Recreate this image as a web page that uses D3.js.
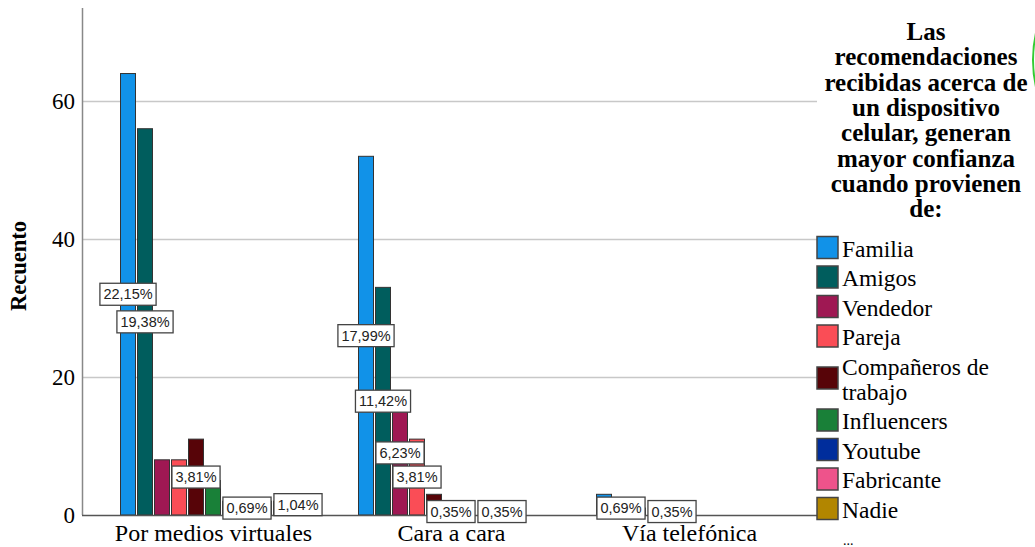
<!DOCTYPE html>
<html>
<head>
<meta charset="utf-8">
<script src="https://cdn.jsdelivr.net/npm/d3@7"></script>
<style>
  html, body { margin: 0; padding: 0; background: #fff; overflow: hidden; }
  svg { display: block; }
</style>
</head>
<body>
<svg id="chart" width="1035" height="547"></svg>
<script>
// ---------------- DATA ----------------
const categories = ["Por medios virtuales", "Cara a cara", "Vía telefónica"];
const seriesNames = ["Familia", "Amigos", "Vendedor", "Pareja", "Compañeros de trabajo",
  "Influencers", "Youtube", "Fabricante", "Nadie", "Otros", "No responde"];
const seriesColors = ["#1192e8", "#005d5d", "#9f1853", "#fa4d56", "#570408",
  "#198038", "#002d9c", "#ee538b", "#b28600", "#009d9a", "#012749"];
const valuesVirtuales = [64, 56, 8, 8, 11, 5, 2, 2, 2, 2, 3];
const valuesCaraACara = [52, 33, 18, 11, 3, 1, 0, 0, 1, 0, 0];
const valuesTelefonica = [3, 2, 1, 0, 1, 0, 0, 0, 0, 0, 0];
const yTicks = [0, 20, 40, 60];
const yMax = 73.5;
// which percentage labels are displayed (others hidden by overlap)
const labelsVirtuales = ["Familia", "Amigos", "Compañeros de trabajo", "Fabricante", "No responde"];
const labelsCaraACara = ["Familia", "Amigos", "Vendedor", "Pareja", "Influencers", "Nadie"];
const labelsTelefonica = ["Amigos", "Compañeros de trabajo"];
const legendItems = ["Familia", "Amigos", "Vendedor", "Pareja", "Compañeros de trabajo",
  "Influencers", "Youtube", "Fabricante", "Nadie"];
const legendTitleLines = ["Las", "recomendaciones", "recibidas acerca de", "un dispositivo",
  "celular, generan", "mayor confianza", "cuando provienen", "de:"];
const yAxisTitle = "Recuento";

// ---------------- BUILD ----------------
const valuesByCat = [valuesVirtuales, valuesCaraACara, valuesTelefonica];
const labelsByCat = [labelsVirtuales, labelsCaraACara, labelsTelefonica];
const total = d3.sum(valuesByCat.flat());
const table = [];
categories.forEach((c, ci) => seriesNames.forEach((s, si) => {
  table.push({cat: c, series: s, value: valuesByCat[ci][si], showLabel: labelsByCat[ci].includes(s)});
}));

const svg = d3.select("#chart");
const serif = "'Liberation Serif', 'Times New Roman', serif";
const sans = "'Liberation Sans', Arial, sans-serif";

const plot = {left: 82, right: 817, top: 8, bottom: 515};

const y = d3.scaleLinear().domain([0, yMax]).range([plot.bottom, plot.top]);
const x0 = d3.scaleBand().domain(categories).range([94.5, 808.5])
  .paddingInner(51 / 238).paddingOuter(51 / 476);
const x1 = d3.scaleBand().domain(seriesNames).range([0, x0.bandwidth()]);
const color = d3.scaleOrdinal().domain(seriesNames).range(seriesColors);

// gridlines
svg.append("g").selectAll("line").data(yTicks.filter(t => t > 0)).join("line")
  .attr("x1", plot.left).attr("x2", plot.right)
  .attr("y1", d => Math.round(y(d)) + 0.5).attr("y2", d => Math.round(y(d)) + 0.5)
  .attr("stroke", "#c8c8c8").attr("stroke-width", 1.5);

// y axis
const yAxis = d3.axisLeft(y).tickValues(yTicks).tickSize(0).tickPadding(7);
const gy = svg.append("g").attr("transform", `translate(${plot.left},0)`).call(yAxis);
gy.select(".domain").remove();
gy.selectAll("text").attr("font-family", serif).attr("font-size", 23).attr("fill", "#000");
svg.append("line").attr("x1", plot.left + 0.5).attr("x2", plot.left + 0.5)
  .attr("y1", plot.top).attr("y2", plot.bottom).attr("stroke", "#888").attr("stroke-width", 1.5);

svg.append("text")
  .attr("transform", `translate(26,266) rotate(-90)`)
  .attr("text-anchor", "middle")
  .attr("font-family", serif).attr("font-weight", "bold").attr("font-size", 22.5)
  .text(yAxisTitle);

// bars
const barW = x1.bandwidth() - 2;
svg.append("g").selectAll("rect").data(table.filter(d => d.value > 0)).join("rect")
  .attr("x", d => x0(d.cat) + x1(d.series) + 0.5)
  .attr("y", d => y(d.value))
  .attr("width", barW)
  .attr("height", d => y(0) - y(d.value))
  .attr("fill", d => color(d.series))
  .attr("stroke", "#333").attr("stroke-width", 1);

// baseline
svg.append("line").attr("x1", plot.left).attr("x2", plot.right)
  .attr("y1", plot.bottom + 0.5).attr("y2", plot.bottom + 0.5)
  .attr("stroke", "#555").attr("stroke-width", 1.5);

// x axis labels
const xAxis = d3.axisBottom(x0).tickSize(0).tickPadding(9);
const gx = svg.append("g").attr("transform", `translate(0,${plot.bottom})`).call(xAxis);
gx.select(".domain").remove();
gx.selectAll("text").attr("font-family", serif).attr("font-size", 24).attr("fill", "#000");

// percentage labels
const fmt = v => d3.format(".2f")(v).replace(".", ",") + "%";
const lab = svg.append("g").selectAll("g").data(table.filter(d => d.showLabel)).join("g")
  .attr("transform", d => `translate(${x0(d.cat) + x1(d.series) + x1.bandwidth() / 2 - 0.5},${(y(d.value) + y(0)) / 2})`);
lab.append("rect");
lab.append("text")
  .attr("text-anchor", "middle").attr("dy", "0.36em")
  .attr("font-family", sans).attr("font-size", 14.5).attr("fill", "#222")
  .text(d => fmt(d.value / total * 100));
lab.each(function() {
  const g = d3.select(this);
  const w = g.select("text").node().getComputedTextLength();
  g.select("rect")
    .attr("x", -w / 2 - 3.5).attr("y", -11)
    .attr("width", w + 7).attr("height", 22)
    .attr("fill", "#fff").attr("stroke", "#444").attr("stroke-width", 1.3);
});

// legend title
const legX = 926;
svg.append("g").selectAll("text").data(legendTitleLines).join("text")
  .attr("x", legX).attr("y", (d, i) => 40 + i * 25.3)
  .attr("text-anchor", "middle")
  .attr("font-family", serif).attr("font-weight", "bold").attr("font-size", 25)
  .text(d => d);

// legend items
let cy = 247.5;
const legend = svg.append("g");
legendItems.forEach((name, i) => {
  const lines = name === "Compañeros de trabajo" ? ["Compañeros de", "trabajo"] : [name];
  if (i > 0) cy += 29.5 + (lines.length > 1 ? 12.5 : 0);
  legend.append("rect")
    .attr("x", 817).attr("y", cy - 11).attr("width", 21).attr("height", 22)
    .attr("fill", color(name)).attr("stroke", "#444").attr("stroke-width", 1.5);
  lines.forEach((ln, li) => {
    legend.append("text")
      .attr("x", 842).attr("y", cy + 9 + (li - (lines.length - 1) / 2) * 25)
      .attr("font-family", serif).attr("font-size", 23.5)
      .text(ln);
  });
  if (lines.length > 1) cy += 12.5;
});
legend.append("text").attr("x", 843).attr("y", 545)
  .attr("font-family", serif).attr("font-size", 14).text("...");

// green arc at right edge
svg.append("circle").attr("cx", 1156).attr("cy", 60).attr("r", 123)
  .attr("fill", "none").attr("stroke", "#33cc33").attr("stroke-width", 2);
</script>
</body>
</html>
